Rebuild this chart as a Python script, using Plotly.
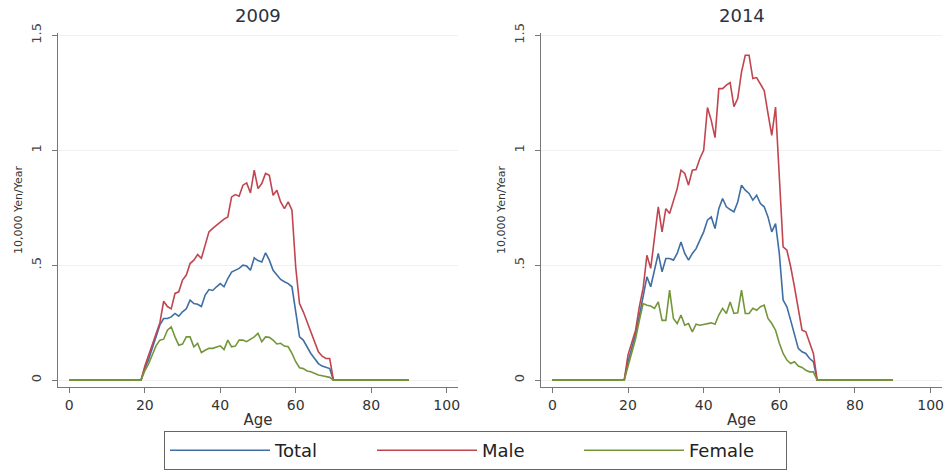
import plotly.graph_objects as go

# Ages at which the series are plotted (flat zero segments between 0-19 and 70-90)
ages = [0, 19, 20, 21, 22, 23, 24, 25, 26, 27, 28, 29, 30, 31, 32, 33, 34, 35, 36, 37, 38, 39,
        40, 41, 42, 43, 44, 45, 46, 47, 48, 49, 50, 51, 52, 53, 54, 55, 56, 57, 58, 59,
        60, 61, 62, 63, 64, 65, 66, 67, 68, 69, 70, 90]

total_2009 = [0, 0, 0.05, 0.09, 0.14, 0.19, 0.24, 0.268, 0.268, 0.275, 0.29, 0.278, 0.297, 0.31,
              0.348, 0.333, 0.33, 0.32, 0.37, 0.394, 0.39, 0.406, 0.42, 0.406, 0.442, 0.47, 0.478,
              0.486, 0.50, 0.496, 0.478, 0.532, 0.52, 0.514, 0.554, 0.522, 0.478, 0.457, 0.438,
              0.428, 0.42, 0.406, 0.30, 0.188, 0.174, 0.145, 0.116, 0.094, 0.072, 0.061, 0.055,
              0.05, 0, 0]
male_2009 = [0, 0, 0.06, 0.11, 0.16, 0.21, 0.25, 0.343, 0.32, 0.31, 0.377, 0.384, 0.435, 0.457,
             0.507, 0.522, 0.546, 0.53, 0.594, 0.645, 0.66, 0.674, 0.688, 0.70, 0.71, 0.797, 0.807,
             0.80, 0.848, 0.858, 0.814, 0.913, 0.833, 0.855, 0.899, 0.891, 0.804, 0.826, 0.775,
             0.746, 0.775, 0.739, 0.49, 0.333, 0.297, 0.254, 0.21, 0.167, 0.123, 0.104, 0.094,
             0.094, 0, 0]
female_2009 = [0, 0, 0.04, 0.07, 0.11, 0.15, 0.174, 0.178, 0.217, 0.232, 0.188, 0.152, 0.157, 0.188,
               0.188, 0.145, 0.16, 0.12, 0.13, 0.138, 0.138, 0.145, 0.149, 0.133, 0.174, 0.145,
               0.148, 0.174, 0.174, 0.167, 0.177, 0.188, 0.203, 0.167, 0.188, 0.186, 0.174, 0.157,
               0.16, 0.148, 0.145, 0.116, 0.08, 0.054, 0.05, 0.04, 0.036, 0.029, 0.022, 0.019,
               0.017, 0.012, 0, 0]

total_2014 = [0, 0, 0.08, 0.14, 0.2, 0.28, 0.37, 0.449, 0.406, 0.486, 0.551, 0.471, 0.529, 0.529,
              0.522, 0.551, 0.601, 0.551, 0.522, 0.551, 0.572, 0.609, 0.645, 0.696, 0.71, 0.659,
              0.746, 0.79, 0.754, 0.742, 0.732, 0.775, 0.848, 0.826, 0.812, 0.783, 0.804, 0.768,
              0.754, 0.71, 0.645, 0.681, 0.55, 0.348, 0.319, 0.26, 0.196, 0.138, 0.123, 0.116,
              0.094, 0.08, 0, 0]
male_2014 = [0, 0, 0.11, 0.16, 0.217, 0.32, 0.40, 0.543, 0.486, 0.62, 0.754, 0.645, 0.746, 0.725,
             0.775, 0.833, 0.913, 0.899, 0.848, 0.913, 0.916, 0.964, 1.0, 1.186, 1.13, 1.055, 1.268,
             1.268, 1.283, 1.294, 1.19, 1.225, 1.34, 1.413, 1.413, 1.312, 1.316, 1.29, 1.26, 1.16,
             1.065, 1.188, 0.88, 0.58, 0.565, 0.493, 0.406, 0.304, 0.217, 0.21, 0.16, 0.116, 0, 0]
female_2014 = [0, 0, 0.06, 0.12, 0.18, 0.26, 0.333, 0.326, 0.322, 0.312, 0.34, 0.26, 0.26, 0.391,
               0.268, 0.246, 0.283, 0.239, 0.246, 0.21, 0.243, 0.239, 0.243, 0.246, 0.249, 0.243,
               0.283, 0.312, 0.29, 0.34, 0.29, 0.293, 0.391, 0.29, 0.29, 0.312, 0.304, 0.319, 0.326,
               0.268, 0.246, 0.217, 0.16, 0.116, 0.087, 0.072, 0.08, 0.061, 0.055, 0.043, 0.036,
               0.036, 0, 0]

panel_titles = ["2009", "2014"]
series_names = ["Total", "Male", "Female"]
series_colors = ["#3f6ea3", "#c0454f", "#74963a"]
x_tickvals = [0, 20, 40, 60, 80, 100]
y_tickvals = [0, 0.5, 1, 1.5]
y_ticktext = ["0", ".5", "1", "1.5"]

W, H = 948, 471
FONT = "DejaVu Sans"

fig = go.Figure()
panels = [
    ("x", "y", [total_2009, male_2009, female_2009]),
    ("x2", "y2", [total_2014, male_2014, female_2014]),
]
for p, (xa, ya, series) in enumerate(panels):
    for name, vals, col in zip(series_names, series, series_colors):
        fig.add_trace(go.Scatter(
            x=ages, y=vals, mode="lines", name=name,
            line=dict(color=col, width=1.6),
            xaxis=xa, yaxis=ya, showlegend=(p == 0), legendgroup=name,
        ))

def px_x(v):
    return v / W

def px_y(v):
    return 1 - v / H

x_domains = [[px_x(58), px_x(458)], [px_x(541), px_x(942)]]
y_domain = [px_y(387), px_y(33)]

common_x = dict(
    range=[-3, 103], tickvals=x_tickvals, ticks="outside", ticklen=5, tickcolor="#777",
    showline=True, linecolor="#777", linewidth=1, showgrid=False, zeroline=False,
    automargin=False,
    tickfont=dict(family=FONT, size=14, color="#333"),
    title=dict(text="Age", font=dict(family=FONT, size=15, color="#333"), standoff=2),
)
common_y = dict(
    range=[-0.03, 1.51], tickvals=y_tickvals, ticktext=y_ticktext, tickangle=-90,
    ticks="outside", ticklen=5, tickcolor="#777", ticklabelstandoff=6,
    showline=True, linecolor="#777", linewidth=1,
    showgrid=True, gridcolor="#f0f0f0", gridwidth=1, zeroline=False,
    automargin=False,
    tickfont=dict(family=FONT, size=13, color="#444"),
    title=dict(text="10,000 Yen/Year", font=dict(family=FONT, size=11, color="#333"), standoff=3),
    domain=y_domain,
)

fig.update_layout(
    width=W, height=H,
    margin=dict(l=0, r=0, t=0, b=0, autoexpand=False),
    paper_bgcolor="white", plot_bgcolor="white",
    xaxis=dict(domain=x_domains[0], anchor="y", **common_x),
    yaxis=dict(anchor="x", **common_y),
    xaxis2=dict(domain=x_domains[1], anchor="y2", **common_x),
    yaxis2=dict(anchor="x2", **common_y),
    showlegend=True,
    legend=dict(
        orientation="h", x=px_x(164), y=px_y(470), xanchor="left", yanchor="bottom",
        bordercolor="#666", borderwidth=1, bgcolor="white",
        font=dict(family=FONT, size=18, color="#222"),
        itemwidth=100, entrywidth=92, entrywidthmode="pixels",
        traceorder="normal",
    ),
)

for i, t in enumerate(panel_titles):
    xd = x_domains[i]
    fig.add_annotation(
        text=t, xref="paper", yref="paper", x=(xd[0] + xd[1]) / 2, y=px_y(16),
        xanchor="center", yanchor="middle", showarrow=False,
        font=dict(family=FONT, size=18, color="#2a3245"),
    )

fig.write_html(
    "out.html",
    config={"displayModeBar": False},
    post_script="document.body.style.margin='0';document.body.style.overflow='hidden';",
)
